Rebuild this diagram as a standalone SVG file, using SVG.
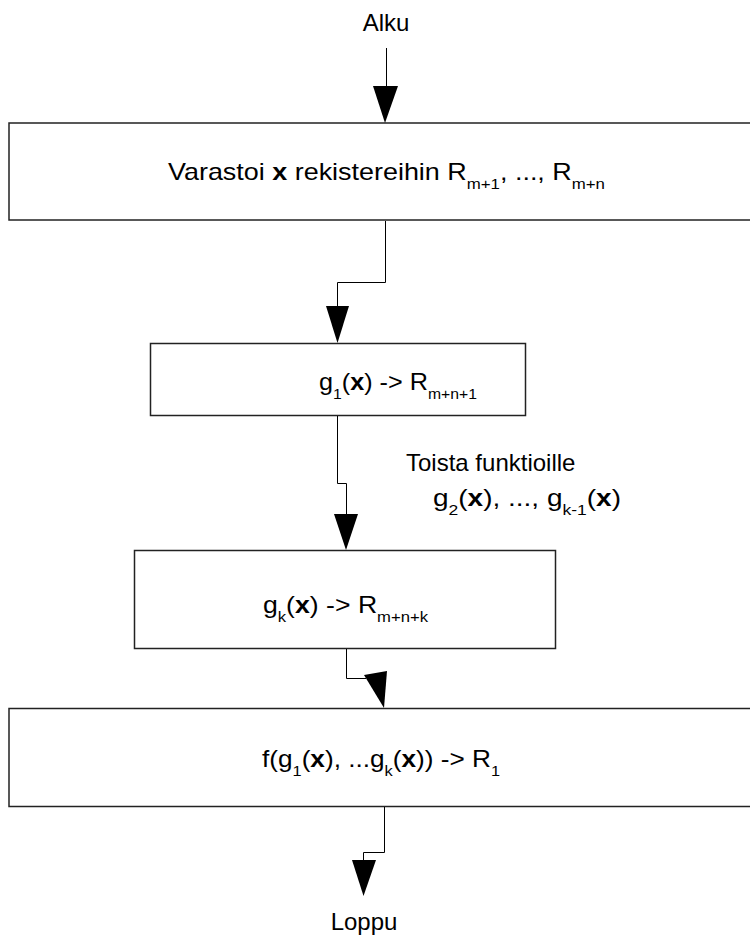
<svg xmlns="http://www.w3.org/2000/svg" width="750" height="937" viewBox="0 0 750 937">
  <style>
    text { font-family: "Liberation Sans", Arial, sans-serif; font-size: 24px; fill: #000; }
    .b { font-weight: bold; }
    .sub { font-size: 15px; }
    .box { fill: #fff; stroke: #222; stroke-width: 1.5; }
    .wire { fill: none; stroke: #000; stroke-width: 1; }
    .head { fill: #000; stroke: none; }
  </style>

  <!-- terminal labels -->
  <g id="start">
    <text x="386" y="31" text-anchor="middle">Alku</text>
  </g>
  <g id="end">
    <text x="364" y="930" text-anchor="middle">Loppu</text>
  </g>

  <!-- process steps -->
  <g id="store">
    <rect class="box" x="9" y="123" width="760" height="97"/>
    <text x="168" y="180" textLength="437" lengthAdjust="spacingAndGlyphs">Varastoi <tspan class="b">x</tspan> rekistereihin R<tspan class="sub" dy="9">m+1</tspan><tspan dy="-9">, ..., R</tspan><tspan class="sub" dy="9">m+n</tspan></text>
  </g>
  <g id="g1">
    <rect class="box" x="150.5" y="343.5" width="375" height="72"/>
    <text x="319" y="390" textLength="158" lengthAdjust="spacingAndGlyphs">g<tspan class="sub" dy="9">1</tspan><tspan dy="-9">(</tspan><tspan class="b">x</tspan>) -&gt; R<tspan class="sub" dy="9">m+n+1</tspan></text>
  </g>
  <g id="repeat-note">
    <text x="406" y="471">Toista funktioille</text>
    <text x="433" y="506" textLength="188" lengthAdjust="spacingAndGlyphs">g<tspan class="sub" dy="9">2</tspan><tspan dy="-9">(</tspan><tspan class="b">x</tspan>), ..., g<tspan class="sub" dy="9">k-1</tspan><tspan dy="-9">(</tspan><tspan class="b">x</tspan>)</text>
  </g>
  <g id="gk">
    <rect class="box" x="134.5" y="550.5" width="421" height="98"/>
    <text x="263" y="613" textLength="165" lengthAdjust="spacingAndGlyphs">g<tspan class="sub" dy="9">k</tspan><tspan dy="-9">(</tspan><tspan class="b">x</tspan>) -&gt; R<tspan class="sub" dy="9">m+n+k</tspan></text>
  </g>
  <g id="combine">
    <rect class="box" x="9" y="708.5" width="760" height="98"/>
    <text x="262" y="767" textLength="238" lengthAdjust="spacingAndGlyphs">f(g<tspan class="sub" dy="9">1</tspan><tspan dy="-9">(</tspan><tspan class="b">x</tspan>), ...g<tspan class="sub" dy="9">k</tspan><tspan dy="-9">(</tspan><tspan class="b">x</tspan>)) -&gt; R<tspan class="sub" dy="9">1</tspan></text>
  </g>

  <!-- connectors -->
  <g id="connectors">
    <path class="wire" d="M386.5,48 V87"/>
    <polygon class="head" points="373,86 398,86 385,123"/>

    <path class="wire" d="M385.5,221 V282.5 H337.5 V307"/>
    <polygon class="head" points="326,306 349,306 337.5,343"/>

    <path class="wire" d="M337.5,416 V483.5 H346.5 V517"/>
    <polygon class="head" points="334,514 358,514 346,550"/>

    <path class="wire" d="M346.5,649 V678.5 H366"/>
    <polygon class="head" points="364,675 387,671 384,708"/>

    <path class="wire" d="M384.5,807 V852.5 H363.5 V861"/>
    <polygon class="head" points="352,860 376,860 363.5,896"/>
  </g>
</svg>
